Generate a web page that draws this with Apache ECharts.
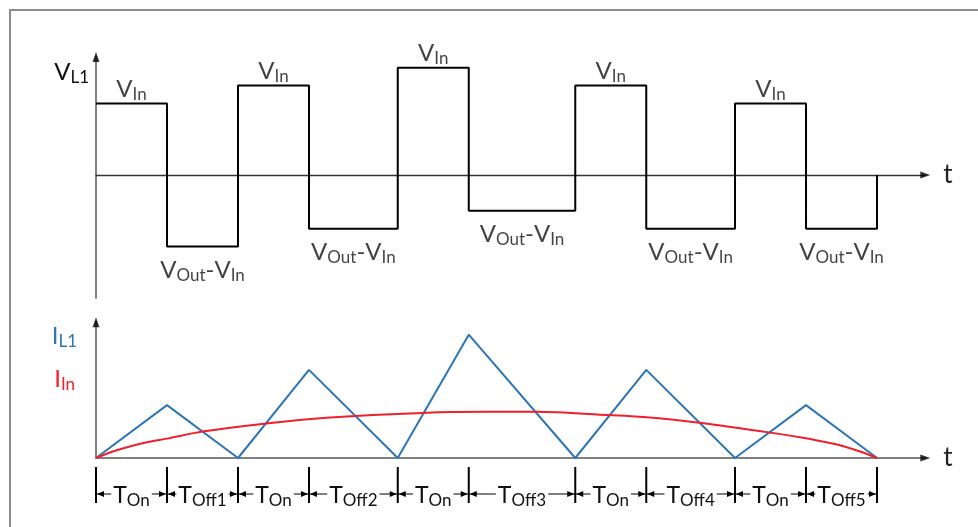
<!DOCTYPE html>
<html><head><meta charset="utf-8">
<script src="https://cdn.jsdelivr.net/npm/echarts@6/dist/echarts.min.js"></script>
<style>html,body{margin:0;padding:0;background:#fff}#c{width:978px;height:527px}</style>
</head><body><div id="c"></div>
<script>
// switching instants (in units of T_On)
const switchTimes = [0, 1, 2, 3, 4.25, 5.25, 6.75, 7.75, 9, 10, 11];
// V_L1 levels during each on / off interval (units of the first V_In)
const vInLevels = [1, 1.25, 1.5, 1.25, 1];
const vOutMinusVinLevels = [-1, -0.75, -0.5, -0.75, -0.75];
// I_L1 at each switching instant
const iL1Values = [0, 1.5, 0, 2.5, 0, 3.5, 0, 2.5, 0, 1.5, 0];
// I_In curve samples
const iInTimes = [0, 0.25, 0.5, 0.75, 1, 1.5, 2.4, 3.3, 4.6, 5.5, 6.2, 7.2, 7.8, 8.5, 9.5, 10, 10.25, 10.5, 10.75, 11];
const iInValues = [0, 0.19, 0.34, 0.46, 0.55, 0.75, 0.98, 1.15, 1.28, 1.31, 1.31, 1.22, 1.15, 1.0, 0.72, 0.56, 0.46, 0.35, 0.19, 0];
// period labels (subscripts of T)
const periodSubs = ['On', 'Off1', 'On', 'Off2', 'On', 'Off3', 'On', 'Off4', 'On', 'Off5'];

const FONT = 'Lato';
const X_MAX = 11.68, Y0_MIN = -1.72, Y0_MAX = 1.65, Y1_MAX = 3.85;
const BLUE = '#2e75b6', RED = '#f0202a';

function rich(color, main, sub) {
  return {
    m: {fontSize: main, fontFamily: FONT, color: color, lineHeight: 24, height: 24, verticalAlign: 'bottom'},
    s: {fontSize: sub, fontFamily: FONT, color: color, lineHeight: 13, height: 13, verticalAlign: 'bottom'}
  };
}

// step data for V_L1
const vStep = [];
for (let i = 0; i < vInLevels.length; i++) {
  vStep.push([switchTimes[2 * i], vInLevels[i]]);
  vStep.push([switchTimes[2 * i + 1], vOutMinusVinLevels[i]]);
}
vStep.push([switchTimes[switchTimes.length - 1], 0]);

const highLabels = vInLevels.map((v, i) => [(switchTimes[2 * i] + switchTimes[2 * i + 1]) / 2, v]);
const lowLabels = vOutMinusVinLevels.map((v, i) => [(switchTimes[2 * i + 1] + switchTimes[2 * i + 2]) / 2, v]);
const iL1Data = switchTimes.map((t, i) => [t, iL1Values[i]]);
const iInData = iInTimes.map((t, i) => [t, iInValues[i]]);
const periodData = periodSubs.map((s, i) => [switchTimes[i], switchTimes[i + 1]]);

const hidden = {axisTick: {show: false}, axisLabel: {show: false}, splitLine: {show: false}};
const grids = [
  {left: 96, top: 57, width: 829.3, height: 241},
  {left: 96, top: 322.3, width: 829.3, height: 135.7},
  {left: 96, top: 467, width: 829.3, height: 36}
].map(g => Object.assign({outerBoundsMode: 'none', containLabel: false}, g));

const tName = {
  name: 't', nameLocation: 'end', nameGap: 18, nameMoveOverlap: false,
  nameTextStyle: {fontSize: 26, fontFamily: FONT, color: '#222', align: 'left', verticalAlign: 'middle'}
};

const option = {
  animation: false,
  backgroundColor: '#fff',
  graphic: [{type: 'rect', silent: true, shape: {x: 10, y: 10, width: 1200, height: 800},
    style: {fill: 'none', stroke: '#8c8c8c', lineWidth: 2}}],
  grid: grids,
  xAxis: [
    Object.assign({gridIndex: 0, type: 'value', min: 0, max: X_MAX,
      axisLine: {show: true, onZero: true, lineStyle: {color: '#333', width: 1.3}}}, hidden, tName),
    Object.assign({gridIndex: 1, type: 'value', min: 0, max: X_MAX,
      axisLine: {show: true, lineStyle: {color: '#7f7f7f', width: 2}}}, hidden, tName),
    {gridIndex: 2, type: 'value', min: 0, max: X_MAX, show: false}
  ],
  yAxis: [
    Object.assign({gridIndex: 0, type: 'value', position: 'left', min: Y0_MIN, max: Y0_MAX,
      axisLine: {show: true, lineStyle: {color: '#808080', width: 2}},
      name: '{m|V}{s|L1}', nameLocation: 'end', nameGap: -3, nameMoveOverlap: false,
      nameTextStyle: {align: 'right', verticalAlign: 'top', padding: [0, 7, 0, 0], rich: rich('#111', 24, 17)}}, hidden),
    Object.assign({gridIndex: 1, type: 'value', position: 'left', min: 0, max: Y1_MAX,
      axisLine: {show: true, lineStyle: {color: '#808080', width: 2}},
      name: '{m|I}{s|L1}', nameLocation: 'end', nameGap: -2, nameMoveOverlap: false,
      nameTextStyle: {align: 'right', verticalAlign: 'top', padding: [0, 19, 0, 0], rich: rich(BLUE, 24, 17)}}, hidden),
    Object.assign({gridIndex: 1, type: 'value', position: 'left', offset: 0, min: 0, max: Y1_MAX,
      axisLine: {show: false},
      name: '{m|I}{s|In}', nameLocation: 'end', nameGap: -45, nameMoveOverlap: false,
      nameTextStyle: {align: 'right', verticalAlign: 'top', padding: [0, 21, 0, 0], rich: rich(RED, 24, 17)}}, hidden),
    {gridIndex: 2, type: 'value', min: 0, max: 1, show: false}
  ],
  series: [
    {type: 'line', name: 'V_L1', xAxisIndex: 0, yAxisIndex: 0, data: vStep, step: 'end',
      symbol: 'none', lineStyle: {color: '#000', width: 2}, silent: true, z: 3},
    {type: 'scatter', xAxisIndex: 0, yAxisIndex: 0, data: highLabels, symbolSize: 1,
      itemStyle: {color: 'rgba(0,0,0,0)'}, silent: true,
      label: {show: true, position: 'top', distance: 2, formatter: '{m|V}{s|In}', rich: rich('#111', 24, 17)}},
    {type: 'scatter', xAxisIndex: 0, yAxisIndex: 0, data: lowLabels, symbolSize: 1,
      itemStyle: {color: 'rgba(0,0,0,0)'}, silent: true,
      label: {show: true, position: 'bottom', distance: 11, formatter: '{m|V}{s|Out}{m|-}{m|V}{s|In}', rich: rich('#111', 24, 17)}},
    {type: 'line', name: 'I_L1', xAxisIndex: 1, yAxisIndex: 1, data: iL1Data,
      symbol: 'none', lineStyle: {color: BLUE, width: 2}, silent: true, z: 3},
    {type: 'line', name: 'I_In', xAxisIndex: 1, yAxisIndex: 1, data: iInData, smooth: 0.3,
      symbol: 'none', lineStyle: {color: RED, width: 2}, silent: true, z: 4},
    {type: 'scatter', xAxisIndex: 0, yAxisIndex: 0, symbol: 'triangle', symbolSize: [7, 10],
      itemStyle: {color: '#000'}, silent: true, clip: false, z: 5,
      data: [{value: [0, Y0_MAX], symbolRotate: 0}, {value: [X_MAX, 0], symbolRotate: -90}]},
    {type: 'scatter', xAxisIndex: 1, yAxisIndex: 1, symbol: 'triangle', symbolSize: [7, 10],
      itemStyle: {color: '#000'}, silent: true, clip: false, z: 5,
      data: [{value: [0, Y1_MAX], symbolRotate: 0}, {value: [X_MAX, 0], symbolRotate: -90}]},
    {type: 'custom', coordinateSystem: 'cartesian2d', xAxisIndex: 2, yAxisIndex: 3, data: periodData,
      encode: {x: [0, 1]}, clip: false, silent: true,
      renderItem: function (params, api) {
        const t0 = api.value(0), t1 = api.value(1);
        const a = api.coord([t0, 0.25]), b = api.coord([t1, 0.25]);
        const children = [];
        const tick = function (t) {
          const p = api.coord([t, 1]), q = api.coord([t, 0]);
          children.push({type: 'line', shape: {x1: p[0], y1: p[1], x2: q[0], y2: q[1]},
            style: {stroke: '#000', lineWidth: 2}});
        };
        tick(t0);
        if (params.dataIndex === periodSubs.length - 1) tick(t1);
        children.push({type: 'line', shape: {x1: a[0], y1: a[1], x2: b[0], y2: b[1]},
          style: {stroke: '#000', lineWidth: 1}});
        children.push({type: 'polygon', shape: {points: [[a[0] + 1, a[1]], [a[0] + 8, a[1] - 3], [a[0] + 8, a[1] + 3]]},
          style: {fill: '#000'}});
        children.push({type: 'polygon', shape: {points: [[b[0] - 1, b[1]], [b[0] - 8, b[1] - 3], [b[0] - 8, b[1] + 3]]},
          style: {fill: '#000'}});
        children.push({type: 'text', x: (a[0] + b[0]) / 2, y: a[1] + 1.3, z2: 10,
          style: {text: '{m|T}{s|' + periodSubs[params.dataIndex] + '}', align: 'center', verticalAlign: 'middle',
            backgroundColor: '#fff', padding: [0, 2],
            rich: {
              m: {fontSize: 23, fontFamily: FONT, fill: '#111', lineHeight: 24, height: 24, verticalAlign: 'bottom'},
              s: {fontSize: 17, fontFamily: FONT, fill: '#111', lineHeight: 13, height: 13, verticalAlign: 'bottom'}
            }}});
        return {type: 'group', children: children};
      }}
  ]
};
const chart = echarts.init(document.getElementById('c'), null, {renderer: 'canvas'});
chart.setOption(option);
</script>
</body></html>
